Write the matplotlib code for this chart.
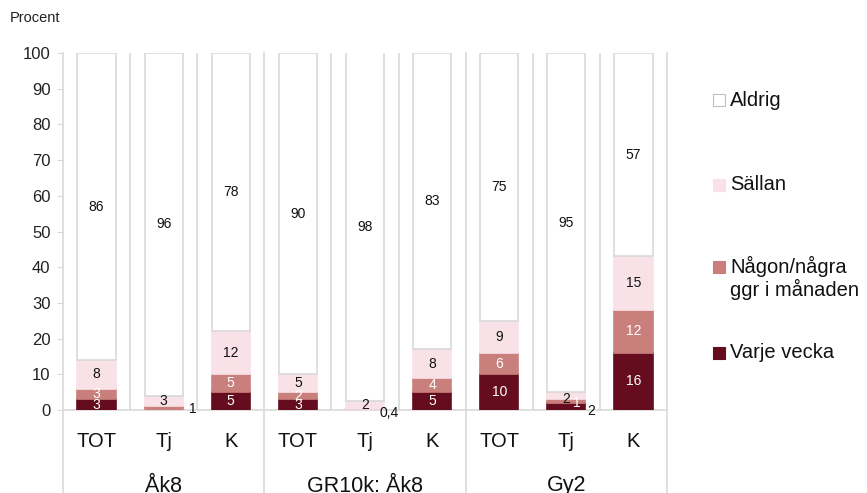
import matplotlib
matplotlib.use("Agg")
import matplotlib.pyplot as plt
from matplotlib.patches import Rectangle
import matplotlib.transforms as mtransforms
import numpy as np

plt.rcParams['font.family'] = ['Liberation Sans', 'DejaVu Sans']

categories = ["TOT", "Tj", "K", "TOT", "Tj", "K", "TOT", "Tj", "K"]
groups = ["Åk8", "GR10k: Åk8", "Gy2"]

varje = [3, 0, 5, 3, 0, 5, 10, 2, 16]
nagon = [3, 1, 5, 2, 0.4, 4, 6, 1, 12]
sallan = [8, 3, 12, 5, 2, 8, 9, 2, 15]
aldrig = [86, 96, 78, 90, 98, 83, 75, 95, 57]

series_names = ["Varje vecka", "Någon/några\nggr i månaden", "Sällan", "Aldrig"]
series_vals = [varje, nagon, sallan, aldrig]
colors = ["#650d1e", "#c9807c", "#f8e2e8", "#ffffff"]
text_colors = ["white", "white", "#111111", "#111111"]
grid_col = "#d9d9d9"

# label placement for tiny segments: (series index, category index) -> (dx, y, colour)
special = {
    (1, 1): (0.43, 0.4, "#111111"),
    (1, 4): (0.36, -0.9, "#111111"),
    (0, 7): (0.37, -0.3, "#111111"),
    (1, 7): (0.16, 2.0, "white"),
    (2, 7): (0.0, 3.1, "#111111"),
}

fig = plt.figure(figsize=(8.67, 4.93), dpi=100)
ax = fig.add_axes([63 / 867, 1 - 410 / 493, 604 / 867, 357 / 493])

x = np.arange(len(categories))
width = 0.57
bottom = np.zeros(len(categories))
for si, (name, vals) in enumerate(zip(series_names, series_vals)):
    vals = np.array(vals, dtype=float)
    ec = grid_col if si == 3 else colors[si]
    ax.bar(x, vals, width, bottom=bottom, color=colors[si], edgecolor=ec,
           linewidth=1.2, zorder=3)
    for i, v in enumerate(vals):
        if v <= 0:
            continue
        lab = ("%g" % v).replace(".", ",")
        if (si, i) in special:
            dx, yy, tc = special[(si, i)]
            ax.text(x[i] + dx, yy, lab, ha="center", va="center", fontsize=10,
                    color=tc, zorder=5, clip_on=False)
        else:
            ax.text(x[i], bottom[i] + v / 2, lab, ha="center", va="center",
                    fontsize=10, color=text_colors[si], zorder=5)
    bottom += vals

ax.set_xlim(-0.5, len(categories) - 0.5)
ax.set_ylim(0, 100)
ax.set_yticks(np.arange(0, 101, 10))
ax.tick_params(axis="y", labelsize=12, length=4, color=grid_col, labelcolor="#222222", pad=5)
ax.set_xticks(x)
ax.set_xticklabels(categories, fontsize=14.5, color="#111111")
ax.tick_params(axis="x", length=0, pad=16)
for s in ["top", "right", "left"]:
    ax.spines[s].set_visible(False)
ax.spines["bottom"].set_color(grid_col)
ax.spines["bottom"].set_linewidth(1.2)

trans = mtransforms.blended_transform_factory(ax.transData, ax.transAxes)
for xv in [0.5, 1.5, 3.5, 4.5, 6.5, 7.5]:
    ax.plot([xv, xv], [0, 1], transform=trans, color=grid_col, lw=1.2, zorder=1)
for xv in [-0.5, 2.5, 5.5, 8.5]:
    ax.plot([xv, xv], [1, -0.3], transform=trans, color=grid_col, lw=1.2,
            zorder=1, clip_on=False)

for gi, g in enumerate(groups):
    ax.text(gi * 3 + 1, -76 / 357, g, transform=trans, ha="center", va="center",
            fontsize=15.5, color="#111111")

fig.text(10 / 867, 1 - 18 / 493, "Procent", fontsize=10.5, va="center", color="#222222")

# legend, drawn by hand to keep Excel spacing
leg_items = [("Aldrig", 3, 100), ("Sällan", 2, 185), ("Någon/några\nggr i månaden", 1, 278), ("Varje vecka", 0, 353)]
for lab, si, py in leg_items:
    ec = "#bfbfbf" if si == 3 else colors[si]
    sq_y = py if "\n" not in lab else py - 11
    fig.patches.append(Rectangle((713 / 867, 1 - (sq_y + 6) / 493), 12 / 867, 12 / 493,
                                 facecolor=colors[si], edgecolor=ec, lw=0.8,
                                 transform=fig.transFigure, figure=fig))
    fig.text(730 / 867, 1 - py / 493, lab, fontsize=14.5, va="center", ha="left",
             color="#111111", linespacing=1.1)

fig.savefig("out.png", dpi=100)
